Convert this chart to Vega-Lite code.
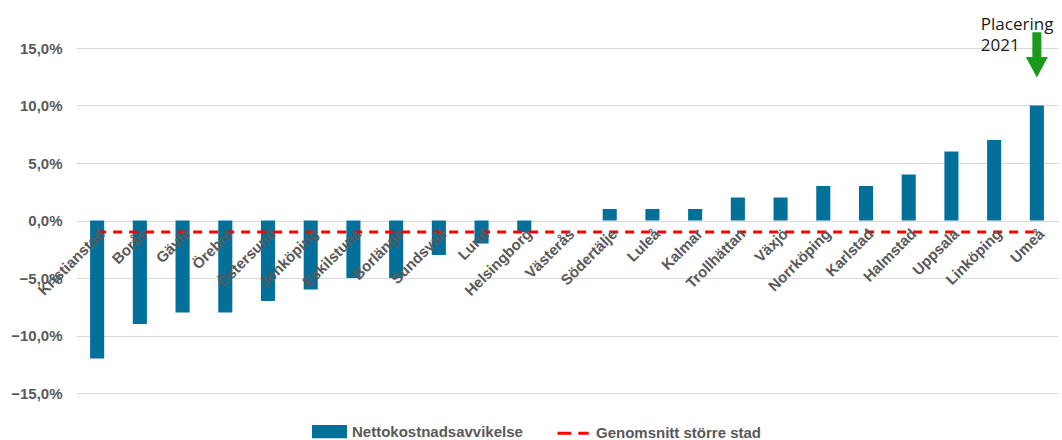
{
  "$schema": "https://vega.github.io/schema/vega-lite/v6.json",
  "width": 982,
  "height": 345,
  "autosize": {"type": "none"},
  "padding": {"left": 76, "top": 48, "right": 4, "bottom": 47},
  "background": "white",
  "config": {
    "view": {"stroke": null},
    "font": "Liberation Sans",
    "axis": {"labelFont": "Liberation Sans", "labelFontWeight": "bold", "labelColor": "#595959", "labelFontSize": 15}
  },
  "datasets": {
    "cities": [
      {"city": "Kristianstad", "value": -12, "avg": -1},
      {"city": "Borås", "value": -9, "avg": -1},
      {"city": "Gävle", "value": -8, "avg": -1},
      {"city": "Örebro", "value": -8, "avg": -1},
      {"city": "Östersund", "value": -7, "avg": -1},
      {"city": "Jönköping", "value": -6, "avg": -1},
      {"city": "Eskilstuna", "value": -5, "avg": -1},
      {"city": "Borlänge", "value": -5, "avg": -1},
      {"city": "Sundsvall", "value": -3, "avg": -1},
      {"city": "Lund", "value": -2, "avg": -1},
      {"city": "Helsingborg", "value": -1, "avg": -1},
      {"city": "Västerås", "value": 0, "avg": -1},
      {"city": "Södertälje", "value": 1, "avg": -1},
      {"city": "Luleå", "value": 1, "avg": -1},
      {"city": "Kalmar", "value": 1, "avg": -1},
      {"city": "Trollhättan", "value": 2, "avg": -1},
      {"city": "Växjö", "value": 2, "avg": -1},
      {"city": "Norrköping", "value": 3, "avg": -1},
      {"city": "Karlstad", "value": 3, "avg": -1},
      {"city": "Halmstad", "value": 4, "avg": -1},
      {"city": "Uppsala", "value": 6, "avg": -1},
      {"city": "Linköping", "value": 7, "avg": -1},
      {"city": "Umeå", "value": 10, "avg": -1}
    ],
    "notes": [
      {"city": "Umeå", "label": "Placering", "y": 16.6},
      {"city": "Umeå", "label": "2021", "y": 14.7}
    ],
    "arrow": [
      {"city": "Umeå", "y": 14.4}
    ]
  },
  "layer": [
    {
      "data": {"name": "cities"},
      "mark": {"type": "bar"},
      "encoding": {
        "x": {
          "field": "city", "type": "nominal", "sort": null,
          "scale": {"paddingInner": 0.67, "paddingOuter": 0.33},
          "axis": {"title": null, "domain": false, "ticks": false, "grid": false, "labelAngle": -45, "labelPadding": 5, "offset": -172, "labelOverlap": false, "labelBound": false, "zindex": 2}
        },
        "y": {
          "field": "value", "type": "quantitative",
          "scale": {"domain": [-15, 15], "nice": false, "zero": false},
          "axis": {"title": null, "domain": false, "ticks": false, "values": [-15, -10, -5, 0, 5, 10, 15], "labelExpr": "replace(format(datum.value, '.1f'), '.', ',') + '%'", "gridColor": "#d9d9d9", "gridWidth": 1, "labelPadding": 14, "zindex": 0}
        },
        "color": {
          "datum": "Nettokostnadsavvikelse",
          "type": "nominal",
          "scale": {"domain": ["Nettokostnadsavvikelse", "Genomsnitt större stad"], "range": ["#03709a", "#ff0000"]},
          "legend": {
            "title": null,
            "orient": "none",
            "direction": "horizontal",
            "legendX": 236,
            "legendY": 366,
            "padding": 0,
            "symbolSize": 1024,
            "symbolStrokeWidth": 3,
            "labelFont": "Liberation Sans",
            "labelFontWeight": "bold",
            "labelFontSize": 15,
            "labelColor": "#595959",
            "labelOffset": 5,
            "columnPadding": 28,
            "labelLimit": 400,
            "encode": {
              "symbols": {
                "update": {
                  "shape": {"signal": "datum.value === 'Nettokostnadsavvikelse' ? 'M-1,-0.32H1V0.32H-1Z' : 'M-1,0H-0.15M0.3,0H0.95'"},
                  "fill": {"signal": "datum.value === 'Nettokostnadsavvikelse' ? '#03709a' : 'transparent'"},
                  "stroke": {"signal": "datum.value === 'Nettokostnadsavvikelse' ? 'transparent' : '#ff0000'"},
                  "strokeWidth": {"value": 3},
                  "opacity": {"value": 1}
                }
              }
            }
          }
        }
      }
    },
    {
      "data": {"name": "cities"},
      "mark": {"type": "line", "strokeDash": [9, 7], "strokeWidth": 3},
      "encoding": {
        "x": {"field": "city", "type": "nominal", "sort": null},
        "y": {"field": "avg", "type": "quantitative"},
        "color": {"datum": "Genomsnitt större stad", "type": "nominal"}
      }
    },
    {
      "data": {"name": "notes"},
      "mark": {"type": "text", "align": "left", "dx": -56, "fontSize": 17, "font": "Open Sans", "color": "#1a1a1a", "baseline": "alphabetic"},
      "encoding": {
        "x": {"field": "city", "type": "nominal", "sort": null},
        "y": {"field": "y", "type": "quantitative"},
        "text": {"field": "label"}
      }
    },
    {
      "data": {"name": "arrow"},
      "mark": {"type": "point", "shape": "M-0.41,-2.05H0.41V0.2H1L0,2.05L-1,0.2H-0.41Z", "size": 484, "filled": true, "color": "#1a9a1a", "opacity": 1},
      "encoding": {
        "x": {"field": "city", "type": "nominal", "sort": null},
        "y": {"field": "y", "type": "quantitative"}
      }
    }
  ]
}
